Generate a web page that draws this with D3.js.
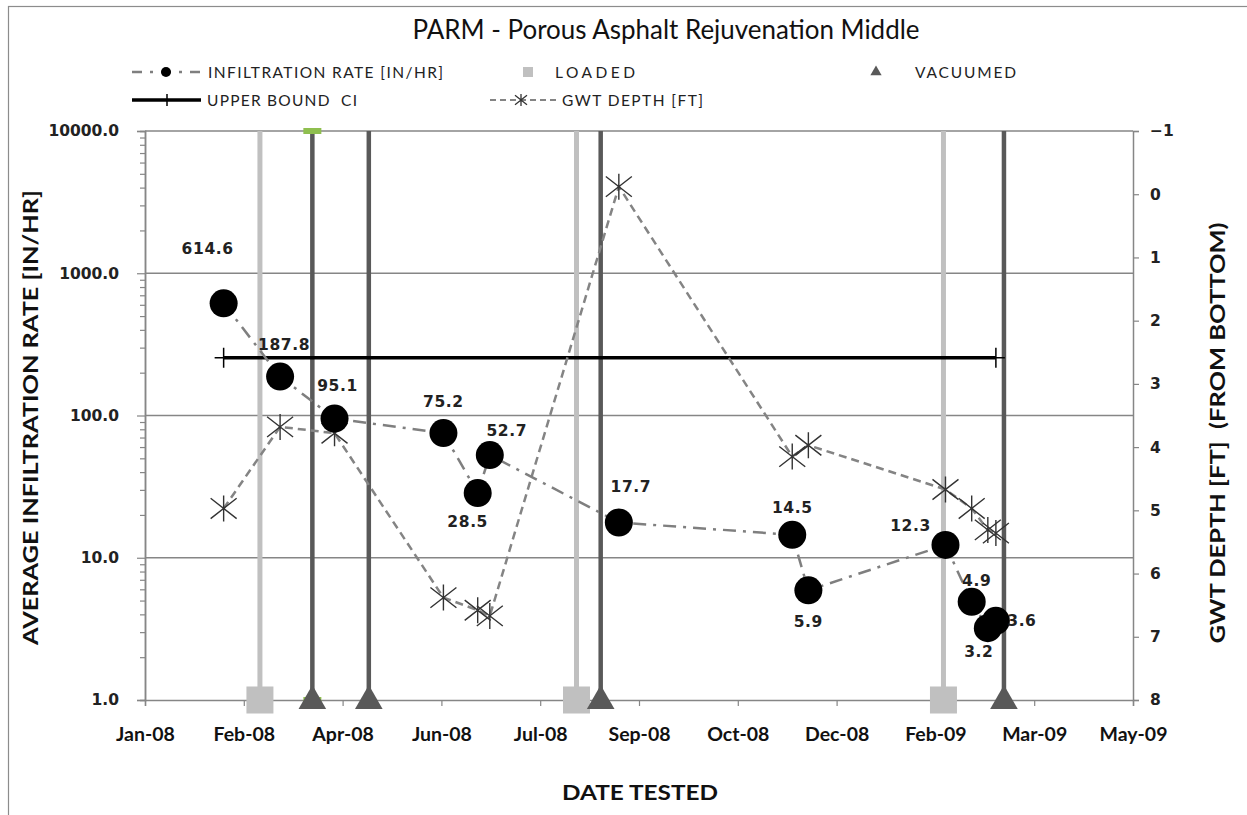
<!DOCTYPE html>
<html>
<head>
<meta charset="utf-8">
<script src="https://cdn.jsdelivr.net/npm/d3@7"></script>
<style>
  html, body { margin: 0; padding: 0; background: #fff; }
  svg { display: block; }
  text { white-space: pre; }
</style>
</head>
<body>
<svg id="chart" width="1247" height="815"></svg>
<script>
// ---------------- DATA ----------------
const xTickDates = ["2008-01-08","2008-02-26","2008-04-15","2008-06-03","2008-07-22","2008-09-09",
                    "2008-10-28","2008-12-16","2009-02-03","2009-03-24","2009-05-12"];
const testDates = ["2008-02-16","2008-03-15","2008-04-11","2008-06-04","2008-06-21","2008-06-27",
                   "2008-08-30","2008-11-24","2008-12-02","2009-02-08","2009-02-21","2009-03-01","2009-03-05"];
const infiltrationRate = [614.6, 187.8, 95.1, 75.2, 28.5, 52.7, 17.7, 14.5, 5.9, 12.3, 4.9, 3.2, 3.6];
const gwtDepth = [4.97, 3.68, 3.78, 6.38, 6.58, 6.67, -0.12, 4.15, 3.97, 4.67, 4.97, 5.31, 5.36];
const ciDates = ["2008-02-16", "2009-03-05"];
const ciValues = [255, 255];
const loadedDates = ["2008-03-05", "2008-08-09", "2009-02-07"];
const vacuumedDates = ["2008-03-31", "2008-04-28", "2008-08-21", "2009-03-09"];
const greenMarkDates = ["2008-03-31"];
const leftTicks = [1, 10, 100, 1000, 10000];
const rightTicks = [-1, 0, 1, 2, 3, 4, 5, 6, 7, 8];
const titleText = "PARM - Porous Asphalt Rejuvenation Middle";
const seriesNames = ["INFILTRATION RATE [IN/HR]", "LOADED", "VACUUMED", "UPPER BOUND  CI", "GWT DEPTH [FT]"];

// label placement offsets (layout, not data)
const labelOffsets = [[-16,-54],[4,-32],[3,-33],[0,-31],[-10,29],[17,-24],[12,-35],[0,-27],[0,32],[-35,-19],[5,-21],[-9,24],[26,0]];

// ---------------- SETUP ----------------
const parse = d3.utcParse("%Y-%m-%d");
const svg = d3.select("#chart");
const W = 1247, H = 815;
const L = 145, R = 1133, T = 131, B = 700;

svg.append("rect").attr("width", W).attr("height", H).attr("fill", "#fff");
// outer border
svg.append("rect").attr("x", 8.5).attr("y", 6.5).attr("width", 1300).attr("height", 900)
   .attr("fill", "none").attr("stroke", "#8c8c8c").attr("stroke-width", 1.2);

const x = d3.scaleUtc().domain([parse(xTickDates[0]), parse(xTickDates[xTickDates.length-1])]).range([L, R]);
const y = d3.scaleLog().domain([1, 10000]).range([B, T]);
const y2 = d3.scaleLinear().domain([-1, 8]).range([T, B]);

const axisColor = "#868686";
const g = svg.append("g");

// gridlines
g.append("g").selectAll("line").data(leftTicks.slice(1)).join("line")
  .attr("x1", L).attr("x2", R).attr("y1", d => y(d)).attr("y2", d => y(d))
  .attr("stroke", axisColor).attr("stroke-width", 1.5);

// left axis
const minorVals = [];
[1,10,100,1000].forEach(dec => { for (let k = 2; k <= 9; k++) minorVals.push(dec*k); });
const leftMinor = g.append("g").attr("transform", `translate(${L},0)`)
  .call(d3.axisLeft(y).tickValues(minorVals).tickSize(5).tickFormat(""));
const leftAx = g.append("g").attr("transform", `translate(${L},0)`)
  .call(d3.axisLeft(y).tickValues(leftTicks).tickSize(8).tickPadding(18).tickFormat(d3.format(".1f")));
// right axis
const rightAx = g.append("g").attr("transform", `translate(${R},0)`)
  .call(d3.axisRight(y2).tickValues(rightTicks).tickSize(6).tickPadding(11).tickFormat(d3.format("d")));
// bottom axis
const bottomAx = g.append("g").attr("transform", `translate(0,${B})`)
  .call(d3.axisBottom(x).tickValues(xTickDates.map(parse)).tickSize(6).tickPadding(21).tickFormat(d3.utcFormat("%b-%y")));

[leftMinor, leftAx, rightAx, bottomAx].forEach(a => {
  a.select(".domain").attr("stroke", axisColor).attr("stroke-width", 1.5);
  a.selectAll(".tick line").attr("stroke", axisColor).attr("stroke-width", 1.2);
});
leftAx.selectAll("text").attr("font-family", "DejaVu Sans").attr("font-weight", "bold")
  .attr("font-size", 15.5).attr("fill", "#222");
rightAx.selectAll("text").attr("font-family", "DejaVu Sans").attr("font-weight", "bold")
  .attr("font-size", 15.5).attr("fill", "#222");
bottomAx.selectAll("text").attr("font-family", "Lato").attr("font-weight", "bold")
  .attr("font-size", 19.5).attr("fill", "#111");

// vertical event lines (loaded / vacuumed)
const loadedColor = "#c0c0c0", vacColor = "#595959";
g.append("g").selectAll("line").data(loadedDates).join("line")
  .attr("x1", d => x(parse(d))).attr("x2", d => x(parse(d)))
  .attr("y1", y(1)).attr("y2", y(10000)).attr("stroke", loadedColor).attr("stroke-width", 5);
g.append("g").selectAll("line").data(vacuumedDates).join("line")
  .attr("x1", d => x(parse(d))).attr("x2", d => x(parse(d)))
  .attr("y1", y(1)).attr("y2", y(10000)).attr("stroke", vacColor).attr("stroke-width", 4.5);
// green dash markers
greenMarkDates.forEach(d => {
  [10000, 1].forEach(v => {
    g.append("rect").attr("x", x(parse(d)) - 9).attr("y", y(v) - 3).attr("width", 18).attr("height", 6)
      .attr("fill", "#8fbf4f");
  });
});
// loaded squares
g.append("g").selectAll("rect").data(loadedDates).join("rect")
  .attr("x", d => x(parse(d)) - 13.5).attr("y", y(1) - 13.5).attr("width", 27).attr("height", 27)
  .attr("fill", loadedColor);
// vacuumed triangles
const tri = d3.symbol().type(d3.symbolTriangle).size(330);
g.append("g").selectAll("path").data(vacuumedDates).join("path")
  .attr("d", tri).attr("transform", d => `translate(${x(parse(d))},${y(1) + 1})`)
  .attr("fill", vacColor);

// upper bound CI line
const ciData = ciDates.map((d, i) => ({ date: parse(d), v: ciValues[i] }));
g.append("path").datum(ciData)
  .attr("d", d3.line().x(d => x(d.date)).y(d => y(d.v)))
  .attr("stroke", "#000").attr("stroke-width", 3.5).attr("fill", "none");
g.append("g").selectAll("path").data(ciData).join("path")
  .attr("d", d => `M${x(d.date) - 9},${y(d.v)}H${x(d.date) + 9}M${x(d.date)},${y(d.v) - 10}V${y(d.v) + 10}`)
  .attr("stroke", "#000").attr("stroke-width", 1.5);

// GWT depth line + asterisk markers
const gwtData = testDates.map((d, i) => ({ date: parse(d), v: gwtDepth[i] }));
g.append("path").datum(gwtData)
  .attr("d", d3.line().x(d => x(d.date)).y(d => y2(d.v)))
  .attr("stroke", "#848484").attr("stroke-width", 2.5).attr("stroke-dasharray", "8,5").attr("fill", "none");
function asterisk(cx, cy, s) {
  const h = s, w = s, dy = s * 0.78;
  return `M${cx},${cy - h}V${cy + h}M${cx - w},${cy - dy}L${cx + w},${cy + dy}M${cx - w},${cy + dy}L${cx + w},${cy - dy}`;
}
g.append("g").selectAll("path").data(gwtData).join("path")
  .attr("d", d => asterisk(x(d.date), y2(d.v), 13))
  .attr("stroke", "#333").attr("stroke-width", 1.4).attr("fill", "none");

// infiltration rate line + circles
const infData = testDates.map((d, i) => ({ date: parse(d), v: infiltrationRate[i], i }));
g.append("path").datum(infData)
  .attr("d", d3.line().x(d => x(d.date)).y(d => y(d.v)))
  .attr("stroke", "#7f7f7f").attr("stroke-width", 2.5).attr("stroke-dasharray", "13,7,3,7").attr("fill", "none");
g.append("g").selectAll("circle").data(infData).join("circle")
  .attr("cx", d => x(d.date)).attr("cy", d => y(d.v)).attr("r", 14).attr("fill", "#000");
// data labels
g.append("g").selectAll("text").data(infData).join("text")
  .attr("x", d => x(d.date) + labelOffsets[d.i][0])
  .attr("y", d => y(d.v) + labelOffsets[d.i][1])
  .attr("text-anchor", "middle").attr("dominant-baseline", "central")
  .attr("font-family", "DejaVu Sans").attr("font-weight", "bold").attr("font-size", 15.5)
  .attr("letter-spacing", 0.6).attr("fill", "#222")
  .text(d => d3.format(".1f")(d.v));

// ---------------- TEXTS ----------------
svg.append("text").attr("x", 666).attr("y", 39).attr("text-anchor", "middle")
  .attr("font-family", "Lato").attr("font-size", 27).attr("fill", "#111")
  .attr("textLength", 507).attr("lengthAdjust", "spacingAndGlyphs").text(titleText);

svg.append("text").attr("transform", "translate(38,417.5) rotate(-90)").attr("text-anchor", "middle")
  .attr("font-family", "Lato").attr("font-weight", "bold").attr("font-size", 21).attr("fill", "#111")
  .attr("textLength", 455).attr("lengthAdjust", "spacingAndGlyphs").text("AVERAGE INFILTRATION RATE [IN/HR]");
svg.append("text").attr("transform", "translate(1225,433) rotate(-90)").attr("text-anchor", "middle")
  .attr("font-family", "Lato").attr("font-weight", "bold").attr("font-size", 21).attr("fill", "#111")
  .attr("textLength", 421).attr("lengthAdjust", "spacingAndGlyphs").text("GWT DEPTH [FT]  (FROM BOTTOM)");
svg.append("text").attr("x", 640).attr("y", 800).attr("text-anchor", "middle")
  .attr("font-family", "Lato").attr("font-weight", "bold").attr("font-size", 21).attr("fill", "#111")
  .attr("textLength", 156).attr("lengthAdjust", "spacingAndGlyphs").text("DATE TESTED");

// ---------------- LEGEND ----------------
const lg = svg.append("g");
const legendText = (tx, ty, txt, len) => lg.append("text").attr("x", tx).attr("y", ty)
  .attr("dominant-baseline", "central").attr("font-family", "Lato").attr("font-size", 15.5)
  .attr("fill", "#222").attr("textLength", len).attr("lengthAdjust", "spacing").text(txt);
// row 1
lg.append("line").attr("x1", 132).attr("x2", 200).attr("y1", 72).attr("y2", 72)
  .attr("stroke", "#7f7f7f").attr("stroke-width", 2.5).attr("stroke-dasharray", "10,8,3,8");
lg.append("circle").attr("cx", 166).attr("cy", 72).attr("r", 5).attr("fill", "#000");
legendText(208, 72, seriesNames[0], 235);
lg.append("rect").attr("x", 523).attr("y", 67).attr("width", 10).attr("height", 10).attr("fill", loadedColor);
legendText(555, 72, seriesNames[1], 80);
lg.append("path").attr("d", d3.symbol().type(d3.symbolTriangle).size(55)).attr("transform", "translate(876,72)")
  .attr("fill", vacColor);
legendText(915, 72, seriesNames[2], 101);
// row 2
lg.append("line").attr("x1", 132).attr("x2", 201).attr("y1", 100).attr("y2", 100)
  .attr("stroke", "#000").attr("stroke-width", 3.5);
lg.append("line").attr("x1", 167).attr("x2", 167).attr("y1", 94).attr("y2", 106)
  .attr("stroke", "#000").attr("stroke-width", 1.5);
legendText(207, 100, seriesNames[3], 150);
lg.append("line").attr("x1", 490).attr("x2", 556).attr("y1", 100).attr("y2", 100)
  .attr("stroke", "#848484").attr("stroke-width", 2).attr("stroke-dasharray", "6,4");
lg.append("path").attr("d", asterisk(521, 100, 6)).attr("stroke", "#333").attr("stroke-width", 1.3);
legendText(562, 100, seriesNames[4], 141);
</script>
</body>
</html>
